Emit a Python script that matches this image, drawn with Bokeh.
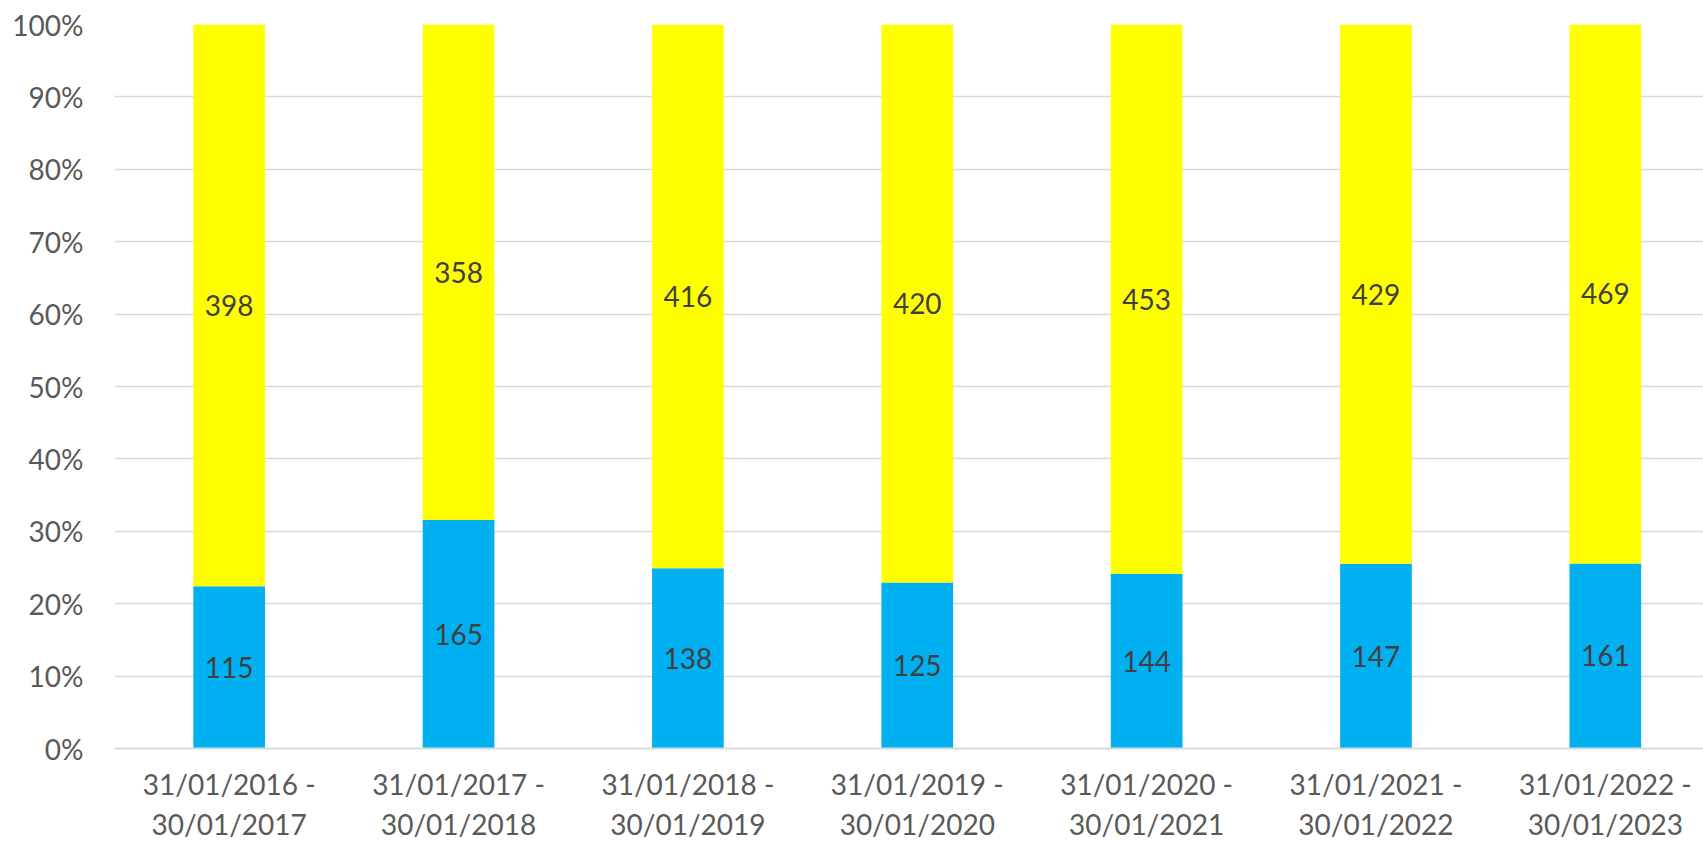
from bokeh.plotting import figure
from bokeh.models import ColumnDataSource, Range1d, FixedTicker, NumeralTickFormatter, LabelSet
from bokeh.core.properties import value
from bokeh.embed import file_html
from bokeh.resources import INLINE

categories = ["31/01/2016 -\n30/01/2017", "31/01/2017 -\n30/01/2018", "31/01/2018 -\n30/01/2019",
              "31/01/2019 -\n30/01/2020", "31/01/2020 -\n30/01/2021", "31/01/2021 -\n30/01/2022",
              "31/01/2022 -\n30/01/2023"]
blue_counts = [115, 165, 138, 125, 144, 147, 161]
yellow_counts = [398, 358, 416, 420, 453, 429, 469]
y_ticks = [0.0, 0.1, 0.2, 0.3, 0.4, 0.5, 0.6, 0.7, 0.8, 0.9, 1.0]

xpos = list(range(len(categories)))
totals = [b + y for b, y in zip(blue_counts, yellow_counts)]
blue_pct = [b / t for b, t in zip(blue_counts, totals)]
yellow_pct = [y / t for y, t in zip(yellow_counts, totals)]

src = ColumnDataSource(dict(
    x=xpos,
    blue=blue_pct,
    yellow=yellow_pct,
    blue_mid=[b / 2 for b in blue_pct],
    yellow_mid=[b + y / 2 for b, y in zip(blue_pct, yellow_pct)],
    blue_lbl=[str(v) for v in blue_counts],
    yellow_lbl=[str(v) for v in yellow_counts],
))

FONT = "Lato"

# the original chart's plot area runs slightly past the right edge of the picture
p = figure(width=1703, height=843, x_range=Range1d(-0.5, len(categories) - 0.572),
           y_range=Range1d(0, 1), output_backend="svg", toolbar_location=None,
           min_border_left=114, min_border_right=0, min_border_top=24, min_border_bottom=0)
p.outline_line_color = None
p.background_fill_color = "white"
p.border_fill_color = "white"

p.vbar_stack(["blue", "yellow"], x="x", width=0.3125, source=src,
             color=["#00B0F0", "#FFFF00"], line_color=None)

for ycol, tcol in (("blue_mid", "blue_lbl"), ("yellow_mid", "yellow_lbl")):
    lab = LabelSet(x="x", y=ycol, text=tcol, source=src, text_align="center",
                   text_baseline="middle", text_font=value(FONT), text_font_size="28px",
                   text_color="#404040")
    p.add_layout(lab)

p.xgrid.grid_line_color = None
p.ygrid.grid_line_color = "#D9D9D9"
p.ygrid.grid_line_width = 1.5
p.yaxis.ticker = FixedTicker(ticks=y_ticks)
p.ygrid.ticker = FixedTicker(ticks=y_ticks)
p.yaxis.formatter = NumeralTickFormatter(format="0%")
p.yaxis.axis_line_color = None
p.yaxis.major_tick_line_color = None
p.yaxis.minor_tick_line_color = None
p.yaxis.major_tick_out = 0
p.yaxis.major_label_standoff = 31
p.yaxis.major_label_text_font = FONT
p.yaxis.major_label_text_font_size = "28px"
p.yaxis.major_label_text_color = "#595959"

p.xaxis.ticker = FixedTicker(ticks=xpos)
p.xaxis.major_label_overrides = {i: c for i, c in zip(xpos, categories)}
p.xaxis.minor_tick_line_color = None
p.xaxis.axis_line_color = "#D9D9D9"
p.xaxis.axis_line_width = 2
p.xaxis.major_tick_line_color = None
p.xaxis.major_tick_out = 0
p.xaxis.major_tick_in = 0
p.xaxis.major_label_standoff = 18
p.xaxis.major_label_text_font = FONT
p.xaxis.major_label_text_font_size = "28px"
p.xaxis.major_label_text_color = "#595959"
p.xaxis.major_label_text_line_height = 1.19

open("out.html", "w").write(file_html(p, INLINE))
